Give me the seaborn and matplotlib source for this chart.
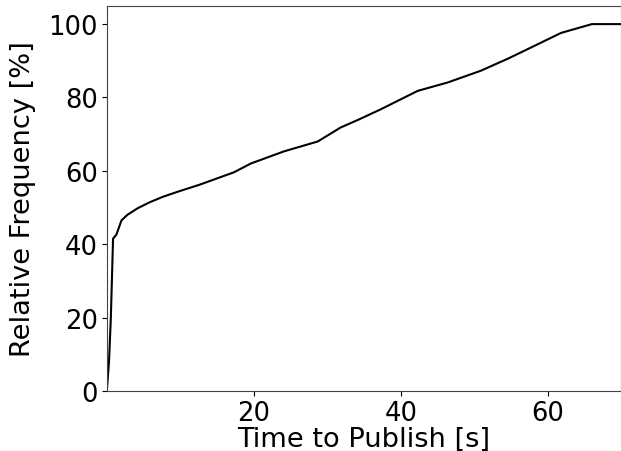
import matplotlib
matplotlib.use("Agg")
import matplotlib.pyplot as plt
import seaborn as sns

# values (seconds, percent)
publish_time = [0, 0.3, 0.55, 0.85, 1.3, 2.0, 2.8, 4.2, 5.8, 7.6, 9.8, 12.6, 14.4,
                17.3, 19.6, 24.1, 28.7, 31.8, 34.3, 37.3, 42.3, 46.4, 50.9, 54.7,
                58.1, 61.8, 66.0, 70]
rel_freq = [0, 8, 20, 41.5, 42.6, 46.5, 48, 49.8, 51.4, 52.9, 54.4, 56.2, 57.5,
            59.6, 62.0, 65.3, 68.0, 71.8, 74, 76.8, 81.8, 84.1, 87.3, 90.7,
            94, 97.6, 100, 100]
x_ticks = [20, 40, 60]
y_ticks = [0, 20, 40, 60, 80, 100]

sns.set_style("white")
plt.rcParams['font.family'] = ['DejaVu Sans']
plt.rcParams['text.color'] = 'black'
plt.rcParams['axes.labelcolor'] = 'black'
plt.rcParams['xtick.color'] = 'black'
plt.rcParams['ytick.color'] = 'black'

fig = plt.figure(figsize=(6.21, 4.52), dpi=100)
ax = fig.add_axes([0.172, 0.133, 0.8285, 0.852])

sns.lineplot(x=publish_time, y=rel_freq, color='black', linewidth=1.5, ax=ax)

ax.set_xlim(0, 70)
ax.set_ylim(0, 105)
ax.set_xticks(x_ticks)
ax.set_yticks(y_ticks)
ax.tick_params(axis='both', labelsize=18.6, direction='out', length=3.5, width=0.8,
               bottom=True, left=True, pad=3)
ax.set_xlabel('Time to Publish [s]', fontsize=19.6, labelpad=0)
ax.set_ylabel('Relative Frequency [%]', fontsize=19.6, labelpad=9)
for sp in ax.spines.values():
    sp.set_color('#444444')
    sp.set_linewidth(0.8)

fig.savefig('out.png', dpi=100)
